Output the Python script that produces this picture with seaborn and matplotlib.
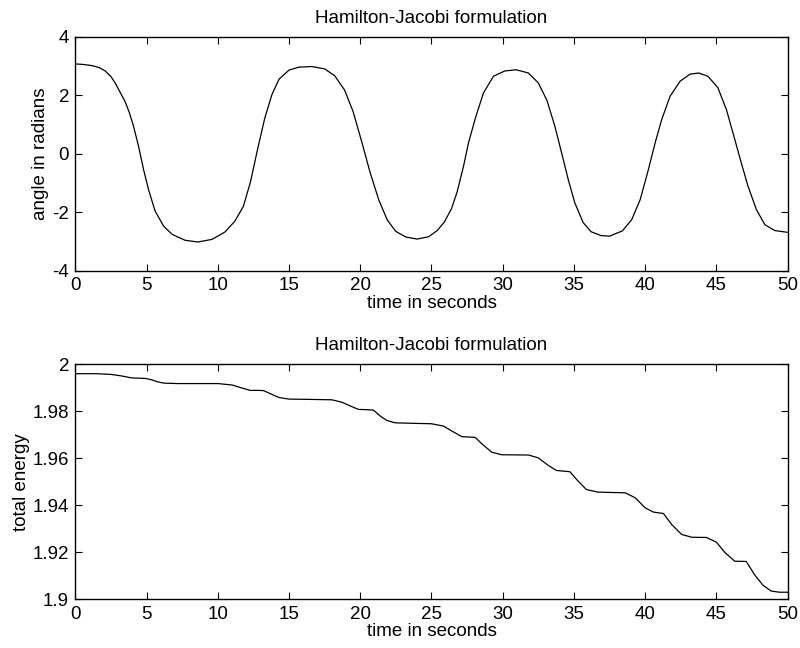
import matplotlib
matplotlib.use("Agg")
import matplotlib.pyplot as plt
import seaborn as sns
import pandas as pd

# ---- data ----
title_text = "Hamilton-Jacobi formulation"
xlabel_text = "time in seconds"
ylabel_top = "angle in radians"
ylabel_bottom = "total energy"

t_angle = [0, 0.6, 1.2, 1.7, 2.1, 2.5, 2.8, 3.15, 3.5, 3.8, 4.09, 4.44, 4.79, 5.14, 5.6,
           6.2, 6.8, 7.7, 8.6, 9.6, 10.5, 11.2, 11.8, 12.3, 12.8, 13.3, 13.8, 14.3, 15.0,
           15.7, 16.6, 17.5, 18.2, 18.9, 19.5, 20.1, 20.7, 21.3, 21.9, 22.5, 23.2, 24.0,
           24.8, 25.4, 25.9, 26.4, 26.8, 27.25, 27.6, 28.1, 28.65, 29.35, 30.15, 30.95,
           31.8, 32.5, 33.1, 33.65, 34.15, 34.6, 35.05, 35.65, 36.2, 36.9, 37.5, 38.4,
           39.05, 39.65, 40.2, 40.7, 41.15, 41.75, 42.45, 43.15, 43.75, 44.4, 45.1, 45.7,
           46.3, 46.75, 47.2, 47.8, 48.4, 49.1, 50.0]
angle = [3.07, 3.05, 3.01, 2.94, 2.83, 2.64, 2.42, 2.10, 1.78, 1.40, 0.94, 0.26, -0.53,
         -1.22, -1.95, -2.47, -2.75, -2.95, -3.01, -2.92, -2.67, -2.30, -1.79, -0.95, 0.17,
         1.22, 2.02, 2.55, 2.86, 2.96, 2.98, 2.90, 2.67, 2.18, 1.44, 0.42, -0.65, -1.57,
         -2.26, -2.65, -2.84, -2.91, -2.83, -2.62, -2.33, -1.88, -1.30, -0.42, 0.38, 1.25,
         2.08, 2.65, 2.83, 2.87, 2.76, 2.42, 1.83, 0.96, 0.0, -0.88, -1.66, -2.35, -2.66,
         -2.79, -2.81, -2.63, -2.25, -1.56, -0.58, 0.38, 1.16, 1.97, 2.48, 2.72, 2.76,
         2.65, 2.26, 1.51, 0.47, -0.32, -1.08, -1.90, -2.42, -2.62, -2.68]

t_energy = [0, 1.5, 2.5, 3.2, 3.97, 4.9, 5.37, 5.8, 6.2, 7.2, 10.0, 11.0, 11.7, 12.27, 12.9,
            13.22, 13.69, 14.28, 14.98, 16.1, 18.0, 18.7, 19.4, 19.88, 20.4, 20.93, 21.4,
            21.87, 22.45, 23.6, 25.0, 25.85, 26.43, 27.13, 28.07, 28.53, 29.23, 29.93, 31.8,
            32.49, 33.19, 33.78, 34.71, 35.29, 35.87, 36.7, 38.6, 39.3, 40.0, 40.58, 41.28,
            41.86, 42.56, 43.26, 44.3, 45.0, 45.58, 46.28, 47.09, 47.67, 48.26, 48.84,
            49.42, 50.0]
energy = [1.9960, 1.9960, 1.9957, 1.9951, 1.9942, 1.9940, 1.9934, 1.9925, 1.9920, 1.9918,
          1.9918, 1.9912, 1.9899, 1.9889, 1.9889, 1.9888, 1.9875, 1.9859, 1.9852, 1.9851,
          1.9849, 1.9839, 1.9820, 1.9808, 1.9807, 1.9805, 1.9780, 1.9761, 1.9751, 1.9749,
          1.9747, 1.9737, 1.9716, 1.9692, 1.9689, 1.9662, 1.9626, 1.9615, 1.9614, 1.9602,
          1.9570, 1.9548, 1.9543, 1.9503, 1.9467, 1.9456, 1.9453, 1.9432, 1.9389, 1.9371,
          1.9365, 1.9318, 1.9276, 1.9264, 1.9263, 1.9243, 1.9200, 1.9162, 1.9161, 1.9105,
          1.9060, 1.9035, 1.9030, 1.9030]

x_ticks = [0, 5, 10, 15, 20, 25, 30, 35, 40, 45, 50]
x_ticklabels = ["0", "5", "10", "15", "20", "25", "30", "35", "40", "45", "50"]
angle_ticks = [-4, -2, 0, 2, 4]
angle_ticklabels = ["-4", "-2", "0", "2", "4"]
energy_ticks = [1.9, 1.92, 1.94, 1.96, 1.98, 2.0]
energy_ticklabels = ["1.9", "1.92", "1.94", "1.96", "1.98", "2"]

# ---- style ----
sns.set_theme(style="white")
plt.rcParams["font.family"] = ["Liberation Sans", "DejaVu Sans"]
FS = 13.5

fig = plt.figure(figsize=(8, 6.48), dpi=100)
fig.patch.set_facecolor("white")
ax1 = fig.add_axes([0.0941, 0.5818, 0.8905, 0.3616])
ax2 = fig.add_axes([0.0941, 0.0752, 0.8905, 0.3626])

df_a = pd.DataFrame({"t": t_angle, "v": angle})
df_e = pd.DataFrame({"t": t_energy, "v": energy})

sns.lineplot(data=df_a, x="t", y="v", ax=ax1, color="black", linewidth=0.9, estimator=None)
sns.lineplot(data=df_e, x="t", y="v", ax=ax2, color="black", linewidth=0.9, estimator=None)

def style(ax, yticks, yticklabels, ylim, ylabel):
    ax.set_facecolor("white")
    ax.set_xlim(0, 50)
    ax.set_ylim(*ylim)
    ax.set_xticks(x_ticks)
    ax.set_xticklabels(x_ticklabels, fontsize=FS)
    ax.set_yticks(yticks)
    ax.set_yticklabels(yticklabels, fontsize=FS)
    ax.tick_params(direction="in", length=5, width=0.8, color="black",
                   top=True, right=True, bottom=True, left=True, pad=4.5,
                   labelcolor="black")
    for s in ax.spines.values():
        s.set_visible(True)
        s.set_color("black")
        s.set_linewidth(1.0)
    ax.set_title(title_text, fontsize=FS, pad=10, color="black")
    ax.set_xlabel(xlabel_text, fontsize=FS, labelpad=0.5, color="black")
    ax.set_ylabel(ylabel, fontsize=FS, labelpad=2, color="black")
    ax.grid(False)

style(ax1, angle_ticks, angle_ticklabels, (-4, 4), ylabel_top)
style(ax2, energy_ticks, energy_ticklabels, (1.9, 2.0), ylabel_bottom)

fig.savefig("out.png", dpi=100, facecolor="white")
